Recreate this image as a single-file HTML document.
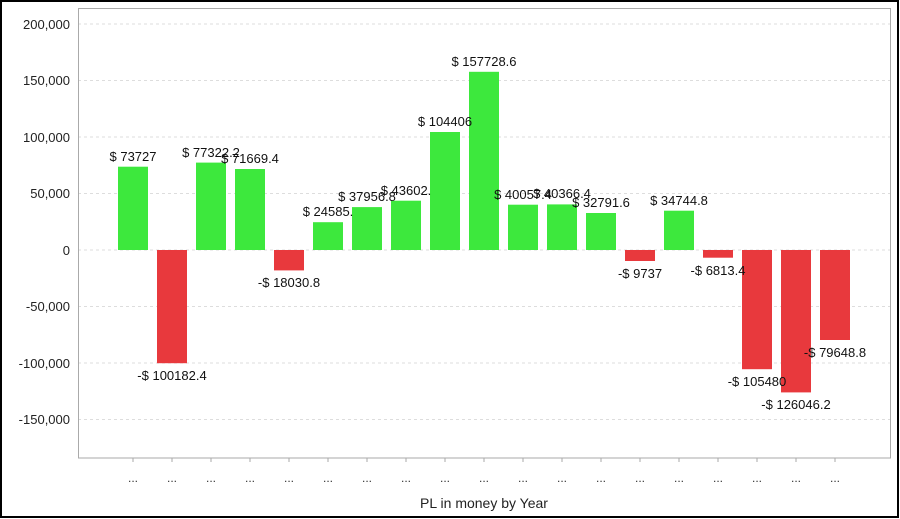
<!DOCTYPE html>
<html><head><style>body{margin:0;background:#fff}svg{display:block}</style></head><body>
<svg width="900" height="519" xmlns="http://www.w3.org/2000/svg" font-family="Liberation Sans, Arial, sans-serif">
<rect x="1" y="1" width="897" height="516" fill="#fff" stroke="#000" stroke-width="2"/>
<g stroke="#ddd" stroke-dasharray="3,3">
<line x1="78" x2="890" y1="24" y2="24"/><line x1="78" x2="890" y1="80.5" y2="80.5"/>
<line x1="78" x2="890" y1="137" y2="137"/><line x1="78" x2="890" y1="193.5" y2="193.5"/>
<line x1="78" x2="890" y1="250" y2="250"/><line x1="78" x2="890" y1="306.5" y2="306.5"/>
<line x1="78" x2="890" y1="363" y2="363"/><line x1="78" x2="890" y1="419.5" y2="419.5"/>
</g>
<rect x="78.5" y="8.5" width="812" height="449.5" fill="none" stroke="#aaa"/>
<g font-size="13" fill="#222" text-anchor="end">
<text x="70" y="29">200,000</text><text x="70" y="85">150,000</text><text x="70" y="142">100,000</text>
<text x="70" y="198">50,000</text><text x="70" y="255">0</text><text x="70" y="311">-50,000</text>
<text x="70" y="368">-100,000</text><text x="70" y="424">-150,000</text>
</g>
<g fill="#3de83d">
<rect x="118" y="166.7" width="30" height="83.3"/>
<rect x="196" y="162.6" width="30" height="87.4"/>
<rect x="235" y="169" width="30" height="81"/>
<rect x="313" y="222.2" width="30" height="27.8"/>
<rect x="352" y="207.1" width="30" height="42.9"/>
<rect x="391" y="200.7" width="30" height="49.3"/>
<rect x="430" y="132" width="30" height="118"/>
<rect x="469" y="71.8" width="30" height="178.2"/>
<rect x="508" y="204.7" width="30" height="45.3"/>
<rect x="547" y="204.4" width="30" height="45.6"/>
<rect x="586" y="213" width="30" height="37"/>
<rect x="664" y="210.7" width="30" height="39.3"/>
</g>
<g fill="#e8393d">
<rect x="157" y="250" width="30" height="113.2"/>
<rect x="274" y="250" width="30" height="20.4"/>
<rect x="625" y="250" width="30" height="11"/>
<rect x="703" y="250" width="30" height="7.7"/>
<rect x="742" y="250" width="30" height="119.2"/>
<rect x="781" y="250" width="30" height="142.4"/>
<rect x="820" y="250" width="30" height="90"/>
</g>
<g font-size="13" fill="#111" text-anchor="middle">
<text x="133" y="161">$ 73727</text>
<text x="172" y="380">-$ 100182.4</text>
<text x="211" y="157">$ 77322.2</text>
<text x="250" y="163">$ 71669.4</text>
<text x="289" y="287">-$ 18030.8</text>
<text x="328" y="216">$ 24585.</text>
<text x="367" y="201">$ 37956.8</text>
<text x="406" y="195">$ 43602.</text>
<text x="445" y="126">$ 104406</text>
<text x="484" y="66">$ 157728.6</text>
<text x="523" y="199">$ 40057.4</text>
<text x="562" y="198">$ 40366.4</text>
<text x="601" y="207">$ 32791.6</text>
<text x="640" y="278">-$ 9737</text>
<text x="679" y="205">$ 34744.8</text>
<text x="718" y="275">-$ 6813.4</text>
<text x="757" y="386">-$ 105480</text>
<text x="796" y="409">-$ 126046.2</text>
<text x="835" y="357">-$ 79648.8</text>
</g>
<g stroke="#aaa">
<line x1="133" x2="133" y1="458" y2="462"/><line x1="172" x2="172" y1="458" y2="462"/><line x1="211" x2="211" y1="458" y2="462"/><line x1="250" x2="250" y1="458" y2="462"/><line x1="289" x2="289" y1="458" y2="462"/><line x1="328" x2="328" y1="458" y2="462"/><line x1="367" x2="367" y1="458" y2="462"/><line x1="406" x2="406" y1="458" y2="462"/><line x1="445" x2="445" y1="458" y2="462"/><line x1="484" x2="484" y1="458" y2="462"/><line x1="523" x2="523" y1="458" y2="462"/><line x1="562" x2="562" y1="458" y2="462"/><line x1="601" x2="601" y1="458" y2="462"/><line x1="640" x2="640" y1="458" y2="462"/><line x1="679" x2="679" y1="458" y2="462"/><line x1="718" x2="718" y1="458" y2="462"/><line x1="757" x2="757" y1="458" y2="462"/><line x1="796" x2="796" y1="458" y2="462"/><line x1="835" x2="835" y1="458" y2="462"/>
</g>
<g font-size="12" fill="#333" text-anchor="middle">
<text x="133" y="482">...</text><text x="172" y="482">...</text><text x="211" y="482">...</text><text x="250" y="482">...</text><text x="289" y="482">...</text><text x="328" y="482">...</text><text x="367" y="482">...</text><text x="406" y="482">...</text><text x="445" y="482">...</text><text x="484" y="482">...</text><text x="523" y="482">...</text><text x="562" y="482">...</text><text x="601" y="482">...</text><text x="640" y="482">...</text><text x="679" y="482">...</text><text x="718" y="482">...</text><text x="757" y="482">...</text><text x="796" y="482">...</text><text x="835" y="482">...</text>
</g>
<text x="484" y="508" font-size="14" fill="#222" text-anchor="middle">PL in money by Year</text>
</svg>
</body></html>
